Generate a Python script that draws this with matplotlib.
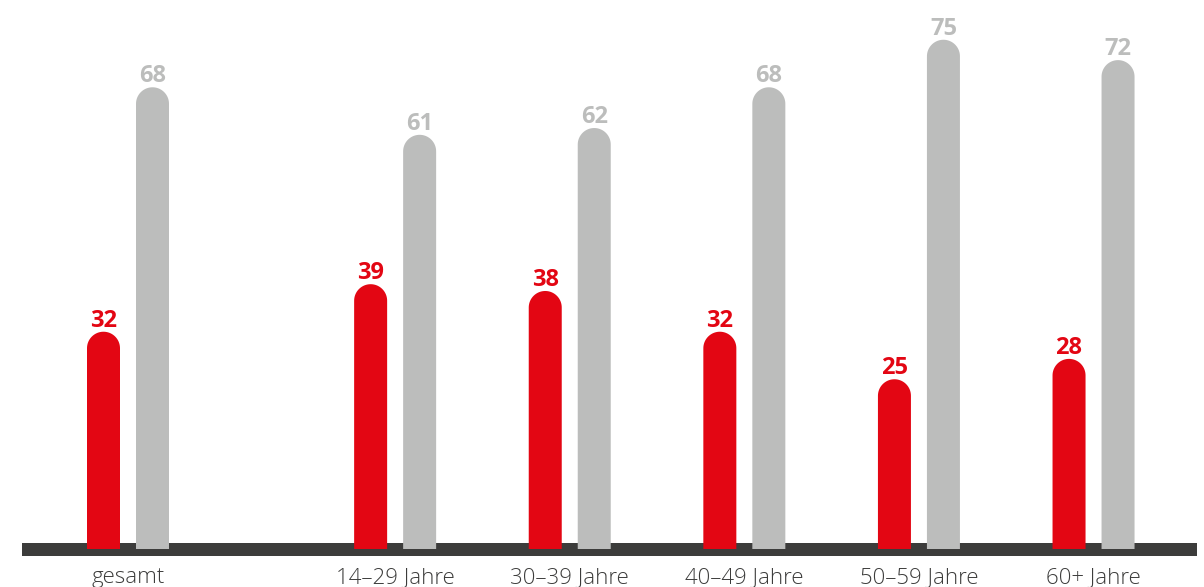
import matplotlib
matplotlib.use("Agg")
import matplotlib.pyplot as plt
import numpy as np

plt.rcParams["font.family"] = ["Open Sans", "DejaVu Sans"]

categories = ["gesamt", "14–29 Jahre", "30–39 Jahre", "40–49 Jahre", "50–59 Jahre", "60+ Jahre"]
red_vals   = [32, 39, 38, 32, 25, 28]
grey_vals  = [68, 61, 62, 68, 75, 72]

RED  = "#e30613"
GREY = "#bcbdbc"
DARK = "#3c3c3b"

# layout (pixel scale helpers)
W, H, DPI = 12.04, 5.87, 100
PX_X = 174.6          # px per group unit
PX_Y = 6.79           # px per value unit
X0_PX, Y0_PX = 128, 38   # group 0 centre / baseline from bottom
positions = [0, 1.53, 2.53, 3.53, 4.53, 5.53]
bw  = 33 / PX_X
off = 24.5 / PX_X
r_y = (33 / 2) / PX_Y

fig = plt.figure(figsize=(W, H), dpi=DPI)
ax = fig.add_axes([0, 0, 1, 1])
ax.set_xlim(-X0_PX / PX_X, (W * DPI - X0_PX) / PX_X)
ax.set_ylim(-Y0_PX / PX_Y, (H * DPI - Y0_PX) / PX_Y)
ax.axis("off")

# baseline bar
ax.axhspan(-7 / PX_Y, 6 / PX_Y, xmin=22 / 1204, xmax=1197 / 1204, color=DARK, zorder=1, lw=0)

theta = np.linspace(0, np.pi, 40)


def rounded_bar(x, v, color):
    # rectangle body + semicircular cap as one outline
    cx = x + (bw / 2) * np.cos(theta)
    cy = (v - r_y) + r_y * np.sin(theta)
    xs = np.concatenate([[x + bw / 2], cx, [x - bw / 2]])
    ys = np.concatenate([[0], cy, [0]])
    ax.fill(xs, ys, color=color, lw=0, zorder=2)


for p, rv, gv, cat in zip(positions, red_vals, grey_vals, categories):
    rounded_bar(p - off, rv, RED)
    rounded_bar(p + off, gv, GREY)
    ax.text(p - off, rv + 5 / PX_Y, str(rv), ha="center", va="baseline",
            fontsize=17, fontweight="bold", color=RED)
    ax.text(p + off, gv + 5 / PX_Y, str(gv), ha="center", va="baseline",
            fontsize=17, fontweight="bold", color=GREY)
    ax.text(p, -34 / PX_Y, cat, ha="center", va="baseline",
            fontsize=16, fontweight="light", color=DARK)

fig.savefig("out.png", dpi=DPI)
